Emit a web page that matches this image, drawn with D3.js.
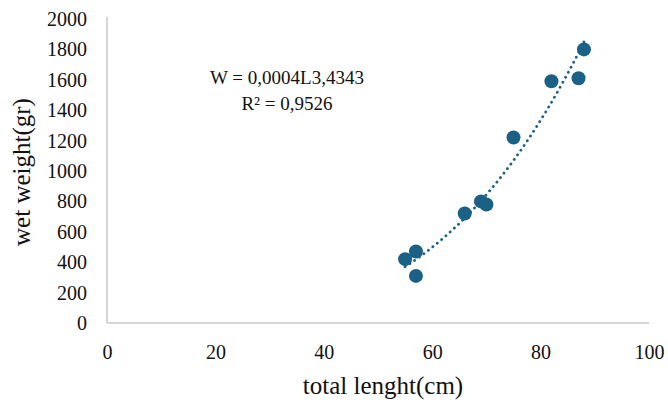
<!DOCTYPE html>
<html>
<head>
<meta charset="utf-8">
<script src="https://cdn.jsdelivr.net/npm/d3@7"></script>
<style>
  html, body { margin: 0; padding: 0; background: #fff; }
  svg { display: block; font-family: "Liberation Serif", "Times New Roman", serif; }
</style>
</head>
<body>
<svg id="chart" width="668" height="403"></svg>
<script>
// Data
const lengths = [55, 57, 57, 66, 69, 70, 75, 82, 87, 88];
const weights = [420, 470, 310, 720, 800, 780, 1220, 1590, 1610, 1800];
const xTicks = [0, 20, 40, 60, 80, 100];
const yTicks = [0, 200, 400, 600, 800, 1000, 1200, 1400, 1600, 1800, 2000];
const equationLines = ["W = 0,0004L3,4343", "R² = 0,9526"];
const xTitle = "total lenght(cm)";
const yTitle = "wet weight(gr)";

const svg = d3.select("#chart");
const x = d3.scaleLinear().domain([0, 100]).range([107, 649]);
const y = d3.scaleLinear().domain([0, 2000]).range([323, 19]);

const axisColor = "#c9c9c9";
const markColor = "#1b6185";
const textColor = "#111";

// Axis lines
svg.append("line").attr("x1", x(0)).attr("x2", x(0)).attr("y1", y(0)).attr("y2", y(2000) - 2)
  .attr("stroke", axisColor).attr("stroke-width", 1.5);
svg.append("line").attr("x1", x(0)).attr("x2", x(100)).attr("y1", y(0)).attr("y2", y(0))
  .attr("stroke", axisColor).attr("stroke-width", 1.5);

// Axes (labels only)
const yAxis = d3.axisLeft(y).tickValues(yTicks).tickSize(0).tickPadding(20).tickFormat(d3.format("d"));
const gy = svg.append("g").attr("transform", `translate(${x(0)},0)`).call(yAxis);
gy.select(".domain").remove();
gy.selectAll("text").attr("font-size", 20).attr("fill", textColor).attr("font-family", "Liberation Serif");

const xAxis = d3.axisBottom(x).tickValues(xTicks).tickSize(0).tickPadding(22).tickFormat(d3.format("d"));
const gx = svg.append("g").attr("transform", `translate(0,${y(0)})`).call(xAxis);
gx.select(".domain").remove();
gx.selectAll("text").attr("font-size", 20).attr("fill", textColor).attr("font-family", "Liberation Serif");

// Power trendline fitted in log space (like a spreadsheet power trendline)
const lx = lengths.map(Math.log), ly = weights.map(Math.log);
const mx = d3.mean(lx), my = d3.mean(ly);
const b = d3.sum(lx.map((v, i) => (v - mx) * (ly[i] - my))) / d3.sum(lx.map(v => (v - mx) * (v - mx)));
const a = Math.exp(my - b * mx);
const xmin = d3.min(lengths), xmax = d3.max(lengths);
const trend = d3.range(0, 101).map(i => {
  const L = xmin + (xmax - xmin) * i / 100;
  return [L, a * Math.pow(L, b)];
});
svg.append("path")
  .datum(trend)
  .attr("d", d3.line().x(d => x(d[0])).y(d => y(d[1])))
  .attr("fill", "none")
  .attr("stroke", markColor)
  .attr("stroke-width", 2.8)
  .attr("stroke-linecap", "round")
  .attr("stroke-dasharray", "0.1 5.6");

// Points
svg.append("g").selectAll("circle")
  .data(lengths.map((L, i) => [L, weights[i]]))
  .join("circle")
  .attr("cx", d => x(d[0]))
  .attr("cy", d => y(d[1]))
  .attr("r", 7)
  .attr("fill", markColor);

// Equation annotation
svg.append("g").selectAll("text")
  .data(equationLines)
  .join("text")
  .attr("x", 287)
  .attr("y", (d, i) => 84 + i * 26)
  .attr("text-anchor", "middle")
  .attr("font-size", 19)
  .attr("fill", textColor)
  .text(d => d);

// Axis titles
svg.append("text")
  .attr("x", 383)
  .attr("y", 394)
  .attr("text-anchor", "middle")
  .attr("font-size", 25)
  .attr("fill", textColor)
  .text(xTitle);

svg.append("text")
  .attr("transform", `translate(30,172) rotate(-90)`)
  .attr("text-anchor", "middle")
  .attr("font-size", 25)
  .attr("fill", textColor)
  .text(yTitle);
</script>
</body>
</html>
